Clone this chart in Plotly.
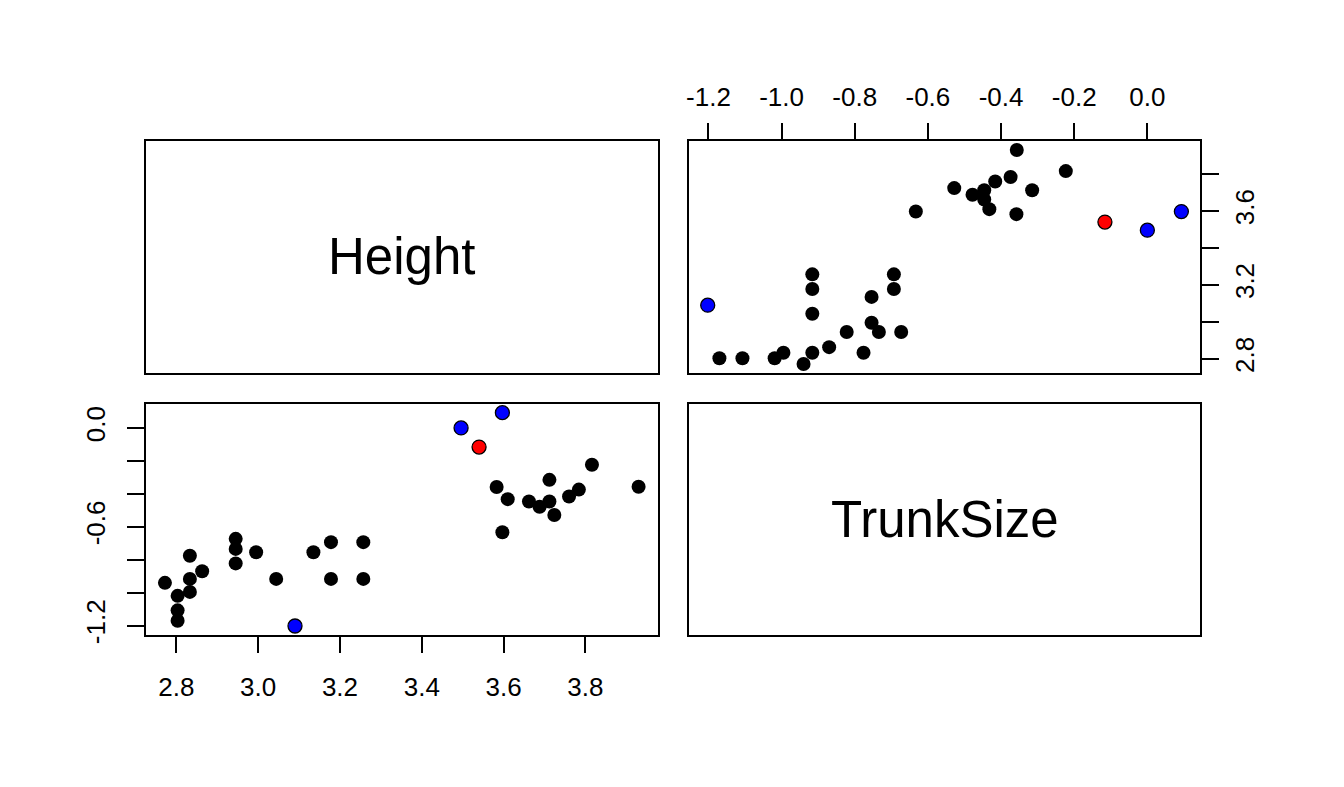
import plotly.graph_objects as go

# ---- data ----
height = [2.772, 2.803, 2.803, 2.803, 2.833, 2.833, 2.833, 2.863, 2.945, 2.945,
          2.945, 2.995, 3.044, 3.090, 3.135, 3.178, 3.178, 3.257, 3.257, 3.496,
          3.597, 3.540, 3.816, 3.712, 3.583, 3.930, 3.784, 3.610, 3.760, 3.662,
          3.712, 3.688, 3.724, 3.597]
trunk = [-0.940, -1.019, -1.107, -1.170, -0.776, -0.916, -0.995, -0.870, -0.673, -0.734,
         -0.822, -0.754, -0.916, -1.202, -0.754, -0.693, -0.916, -0.693, -0.916, 0.000,
         0.093, -0.116, -0.223, -0.315, -0.358, -0.357, -0.374, -0.432, -0.416, -0.446,
         -0.446, -0.478, -0.528, -0.633]
group = ["other"] * 13 + ["blue"] + ["other"] * 5 + ["blue", "blue", "red"] + ["other"] * 12

var_names = ["Height", "TrunkSize"]
height_ticks = [2.8, 3.0, 3.2, 3.4, 3.6, 3.8]
height_top_labels = ["2.8", "", "3.2", "", "3.6", ""]
trunk_ticks = [-1.2, -1.0, -0.8, -0.6, -0.4, -0.2, 0.0]
trunk_left_labels = ["-1.2", "", "", "-0.6", "", "", "0.0"]
trunk_top_labels = ["-1.2", "-1.0", "-0.8", "-0.6", "-0.4", "-0.2", "0.0"]

# ---- styling ----
FONT = "Liberation Sans, Arial, Helvetica, sans-serif"
fill = {"other": "black", "blue": "#0000ff", "red": "#ff0000"}
TICK_SIZE = 26


def ext(vals):
    lo, hi = min(vals), max(vals)
    d = (hi - lo) * 0.04
    return [lo - d, hi + d]


h_range = ext(height)
t_range = ext(trunk)

W, H = 1344, 787
xd_left = [143.3 / W, 656.0 / W]
xd_right = [687.3 / W, 1200.0 / W]
yd_top = [1 - 377.3 / H, 1 - 143.3 / H]
yd_bot = [1 - 642.7 / H, 1 - 409.3 / H]

fig = go.Figure()

colors = [fill[g] for g in group]
lines = ["black"] * len(group)
lw = [0 if g == "other" else 1.3 for g in group]

# lower-left: x = Height, y = TrunkSize
fig.add_trace(go.Scatter(x=height, y=trunk, mode="markers", xaxis="x", yaxis="y",
                         marker=dict(size=14, color=colors,
                                     line=dict(color=lines, width=lw)),
                         showlegend=False, hoverinfo="skip"))
# upper-right: x = TrunkSize, y = Height
fig.add_trace(go.Scatter(x=trunk, y=height, mode="markers", xaxis="x2", yaxis="y2",
                         marker=dict(size=14, color=colors,
                                     line=dict(color=lines, width=lw)),
                         showlegend=False, hoverinfo="skip"))
# diagonal panels (empty)
fig.add_trace(go.Scatter(x=[None], y=[None], xaxis="x3", yaxis="y3", showlegend=False))
fig.add_trace(go.Scatter(x=[None], y=[None], xaxis="x4", yaxis="y4", showlegend=False))

axis_common = dict(showline=True, mirror=True, linecolor="black", linewidth=1.5,
                   showgrid=False, zeroline=False, ticks="outside", ticklen=17,
                   tickwidth=1.5, tickcolor="black",
                   tickfont=dict(family=FONT, size=TICK_SIZE, color="black"))
blank = dict(showline=True, mirror=True, linecolor="black", linewidth=1.5,
             showgrid=False, zeroline=False, ticks="", showticklabels=False)

fig.update_layout(
    width=W, height=H,
    margin=dict(l=0, r=0, t=0, b=0),
    paper_bgcolor="white", plot_bgcolor="white",
    font=dict(family=FONT, color="black"),
    xaxis=dict(domain=xd_left, anchor="y", side="bottom", range=h_range,
               tickmode="array", tickvals=height_ticks,
               ticktext=[f"{v:.1f}" for v in height_ticks],
               ticklabelstandoff=12, **axis_common),
    yaxis=dict(domain=yd_bot, anchor="x", side="left", range=t_range,
               tickmode="array", tickvals=trunk_ticks, ticktext=trunk_left_labels,
               tickangle=-90, ticklabelstandoff=12, **axis_common),
    xaxis2=dict(domain=xd_right, anchor="y2", side="top", range=t_range,
                tickmode="array", tickvals=trunk_ticks, ticktext=trunk_top_labels,
                ticklabelstandoff=6, **axis_common),
    yaxis2=dict(domain=yd_top, anchor="x2", side="right", range=h_range,
                tickmode="array", tickvals=height_ticks, ticktext=height_top_labels,
                tickangle=-90, ticklabelstandoff=4, **axis_common),
    xaxis3=dict(domain=xd_left, anchor="y3", range=[0, 1], **blank),
    yaxis3=dict(domain=yd_top, anchor="x3", range=[0, 1], **blank),
    xaxis4=dict(domain=xd_right, anchor="y4", range=[0, 1], **blank),
    yaxis4=dict(domain=yd_bot, anchor="x4", range=[0, 1], **blank),
    annotations=[
        dict(text=var_names[0], xref="x3 domain", yref="y3 domain", x=0.5, y=0.5,
             showarrow=False, font=dict(family=FONT, size=51, color="black")),
        dict(text=var_names[1], xref="x4 domain", yref="y4 domain", x=0.5, y=0.5,
             showarrow=False, font=dict(family=FONT, size=51, color="black")),
    ],
)

fig.write_html("out.html")
